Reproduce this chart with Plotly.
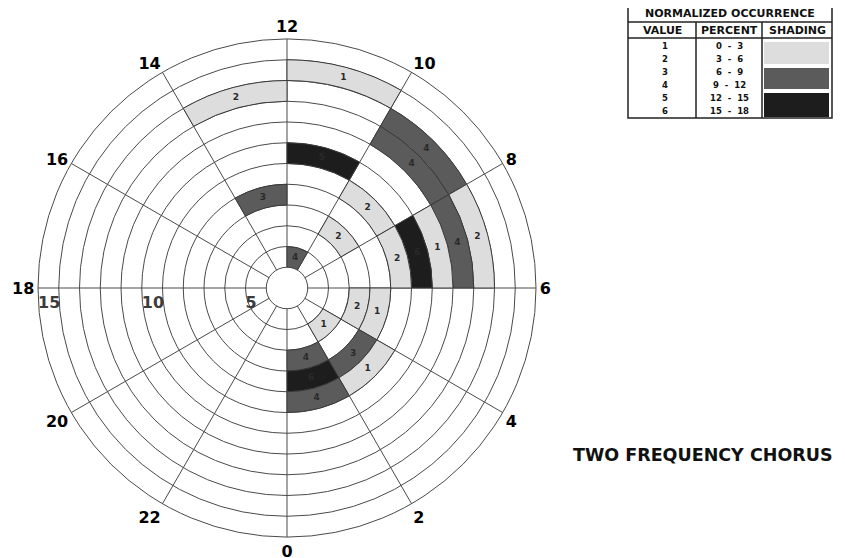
import plotly.graph_objects as go

# ---------------- data ----------------
sector_start = [10, 10, 10, 12, 12, 8, 8, 8, 8, 6, 6, 6, 6, 6, 4, 4, 2, 2, 2, 0, 0, 0]
ring_base = [13, 9, 4, 12, 7, 12, 11, 8, 6, 12, 11, 10, 9, 8, 6, 7, 5, 7, 8, 6, 7, 8]
occurrence = [1, 5, 4, 2, 3, 4, 4, 2, 2, 2, 4, 1, 6, 2, 2, 1, 1, 3, 1, 4, 6, 4]

hour_ticks = [0, 2, 4, 6, 8, 10, 12, 14, 16, 18, 20, 22]
radial_ticks = [4, 5, 6, 7, 8, 9, 10, 11, 12, 13, 14, 15]
radial_labels = ["", "5", "", "", "", "", "10", "", "", "", "", "15"]

legend_values = ["1", "2", "3", "4", "5", "6"]
legend_percent = ["0  -  3", "3  -  6", "6  -  9", "9  -  12", "12  -  15", "15  -  18"]

title_text = "TWO FREQUENCY CHORUS"

# ---------------- styles ----------------
shade = {1: "#dddddd", 2: "#dddddd", 3: "#5b5b5b", 4: "#5b5b5b", 5: "#1d1d1d", 6: "#1d1d1d"}
label_col = {1: "#2a2a2a", 2: "#2a2a2a", 3: "#2a2a2a", 4: "#2a2a2a", 5: "#2a2a2a", 6: "#2a2a2a"}
W, H = 845, 558
OFF = 8  # page body margin offset
WF, HF = W - OFF, H - OFF
DEG_PER_HOUR = 15

theta_center = [(s + 1) * DEG_PER_HOUR for s in sector_start]

fig = go.Figure()
fig.add_trace(go.Barpolar(
    theta=theta_center,
    r=[1] * len(ring_base),
    base=ring_base,
    width=[2 * DEG_PER_HOUR] * len(ring_base),
    marker=dict(color=[shade[v] for v in occurrence],
                line=dict(color="#3a3a3a", width=1)),
    hoverinfo="skip",
    showlegend=False,
))
fig.add_trace(go.Scatterpolar(
    theta=theta_center,
    r=[b + 0.5 for b in ring_base],
    mode="text",
    text=[str(v) for v in occurrence],
    textfont=dict(family="DejaVu Sans", size=9, weight="bold",
                  color=[label_col[v] for v in occurrence]),
    hoverinfo="skip",
    showlegend=False,
))


def px(x):
    return (x - OFF) / WF


def py(y):
    return 1 - (y - OFF) / HF


cx, cy, R = 287, 288, 249
fig.update_layout(
    width=WF, height=HF,
    margin=dict(l=0, r=0, t=0, b=0),
    paper_bgcolor="white",
    plot_bgcolor="white",
    showlegend=False,
    polar=dict(
        domain=dict(x=[px(cx - R), px(cx + R)], y=[py(cy + R), py(cy - R)]),
        bgcolor="white",
        hole=1 / 12,
        angularaxis=dict(
            thetaunit="degrees",
            rotation=270,
            direction="counterclockwise",
            tickmode="array",
            tickvals=[h * DEG_PER_HOUR for h in hour_ticks],
            ticktext=[str(h) for h in hour_ticks],
            ticks="",
            showgrid=True,
            gridcolor="#4a4a4a",
            gridwidth=1,
            showline=True,
            linecolor="#4a4a4a",
            linewidth=1,
            layer="above traces",
            tickfont=dict(family="DejaVu Sans", size=16, weight="bold", color="black"),
        ),
        radialaxis=dict(
            range=[4, 15],
            angle=180,
            tickangle=180,
            side="counterclockwise",
            tickmode="array",
            tickvals=radial_ticks,
            ticktext=radial_labels,
            ticks="",
            showline=False,
            showgrid=True,
            gridcolor="#4a4a4a",
            gridwidth=1,
            layer="above traces",
            tickfont=dict(family="DejaVu Sans", size=16, weight="bold", color="#3c3c3c"),
        ),
    ),
)

# ---------------- legend table (top right) ----------------
shapes = []
line = dict(color="#222", width=1.5)
shapes.append(dict(type="rect", xref="paper", yref="paper", x0=px(628), x1=px(832), y0=py(118), y1=py(5), line=line))
for yy in [22, 38]:
    shapes.append(dict(type="line", xref="paper", yref="paper", x0=px(628), x1=px(832), y0=py(yy), y1=py(yy), line=line))
for xx in [696, 762]:
    shapes.append(dict(type="line", xref="paper", yref="paper", x0=px(xx), x1=px(xx), y0=py(22), y1=py(118), line=line))
for (y0, y1, col) in [(42, 64, shade[1]), (68, 89, shade[3]), (93, 117, shade[5])]:
    shapes.append(dict(type="rect", xref="paper", yref="paper", x0=px(764), x1=px(829), y0=py(y1), y1=py(y0),
                       fillcolor=col, line=dict(width=0), layer="above"))

annotations = []


def ann(text, x, y, font):
    annotations.append(dict(text=text, x=px(x), y=py(y), xref="paper", yref="paper", showarrow=False,
                            xanchor="center", yanchor="middle", font=font))


hdr_font = dict(family="DejaVu Sans", size=11, weight="bold", color="#111")
ann("NORMALIZED OCCURRENCE", 730, 14, hdr_font)
for t, xx in [("VALUE", 662), ("PERCENT", 729), ("SHADING", 797)]:
    ann(t, xx, 30, hdr_font)
row_y = [46, 59, 72, 85, 98, 111]
row_font = dict(family="DejaVu Sans", size=8.5, weight="bold", color="#111")
for v, p, yy in zip(legend_values, legend_percent, row_y):
    ann(v, 665, yy, row_font)
    ann(p, 729, yy, row_font)

ann(title_text, 703, 455, dict(family="DejaVu Sans", size=17.5, weight="bold", color="#111"))

fig.update_layout(shapes=shapes, annotations=annotations)

fig.write_html("out.html")
